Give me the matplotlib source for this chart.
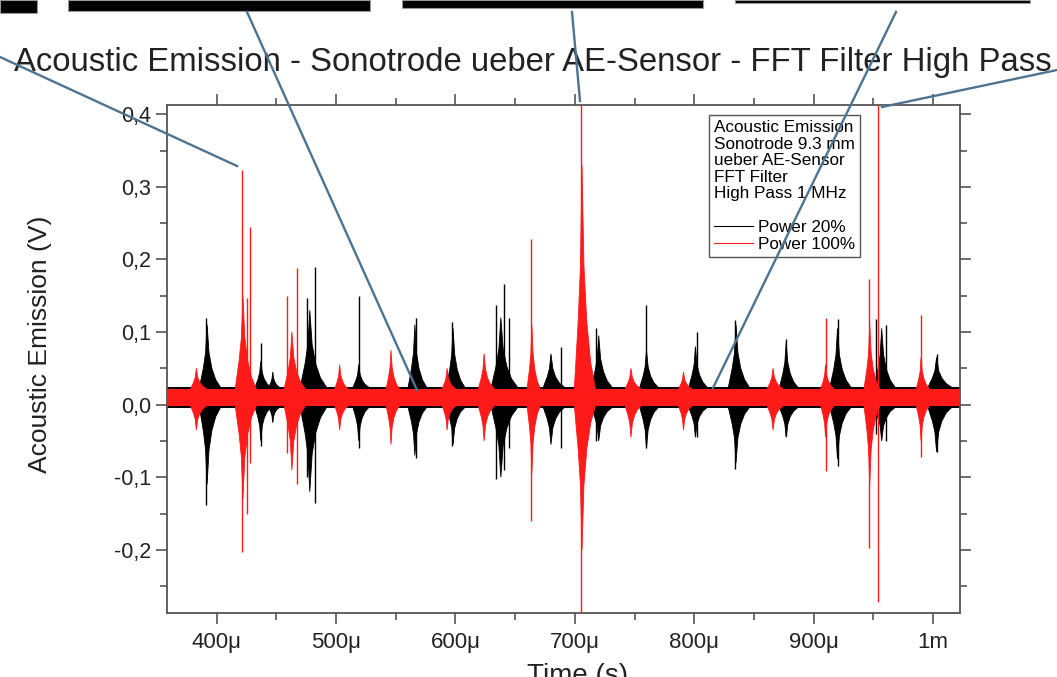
import matplotlib
matplotlib.use("Agg")
import matplotlib.pyplot as plt
from matplotlib.lines import Line2D
from matplotlib.patches import Rectangle
from matplotlib.ticker import FuncFormatter, MultipleLocator

plt.rcParams['font.family'] = ['Liberation Sans', 'DejaVu Sans']

# time axis in microseconds
XMIN, XMAX = 358.4, 1022.6
YMIN, YMAX = -0.287, 0.412

# noise band around the baseline (V)
black_band = (0.024, -0.004)
red_band = (0.022, -0.002)

# Power 20 % bursts: centre (us), upper (V), lower (V), duration (us)
black_t = [392, 437, 447, 478, 519, 566, 598, 638, 680, 720, 760, 801, 835, 877, 920, 957, 1003]
black_hi = [0.11, 0.06, 0.045, 0.13, 0.055, 0.11, 0.105, 0.12, 0.07, 0.095, 0.075, 0.08, 0.11, 0.085, 0.105, 0.105, 0.065]
black_lo = [-0.11, -0.05, -0.025, -0.12, -0.05, -0.07, -0.055, -0.10, -0.055, -0.05, -0.06, -0.045, -0.08, -0.045, -0.075, -0.05, -0.065]
black_w = [16, 12, 8, 20, 12, 14, 14, 20, 16, 16, 14, 14, 16, 14, 16, 16, 18]

# Power 20 % single spikes: time (us), top, bottom
black_spike_t = [391, 437, 476, 482, 519, 567, 597, 634, 641, 645, 688, 718, 760, 802, 834, 877, 920, 952, 961, 1003]
black_spike_top = [0.119, 0.085, 0.147, 0.19, 0.15, 0.119, 0.114, 0.137, 0.166, 0.12, 0.08, 0.105, 0.137, 0.10, 0.117, 0.09, 0.118, 0.118, 0.11, 0.07]
black_spike_bot = [-0.138, -0.057, -0.10, -0.136, -0.06, -0.073, -0.057, -0.102, -0.09, -0.06, -0.06, -0.05, -0.06, -0.045, -0.088, -0.043, -0.085, -0.04, -0.05, -0.065]

# Power 100 % bursts
red_t = [383, 422, 463, 503, 546, 593, 624, 664, 706, 747, 791, 866, 910, 947, 990]
red_hi = [0.05, 0.15, 0.10, 0.055, 0.075, 0.05, 0.07, 0.11, 0.33, 0.05, 0.045, 0.05, 0.055, 0.11, 0.065]
red_lo = [-0.035, -0.13, -0.09, -0.035, -0.055, -0.035, -0.05, -0.095, -0.20, -0.045, -0.035, -0.035, -0.045, -0.11, -0.05]
red_w = [12, 16, 16, 10, 10, 10, 12, 10, 16, 12, 10, 12, 10, 12, 10]

red_spike_t = [421, 425, 428, 459, 467, 663, 705, 910, 946, 954, 990]
red_spike_top = [0.323, 0.147, 0.245, 0.15, 0.188, 0.228, 0.43, 0.12, 0.173, 0.43, 0.123]
red_spike_bot = [-0.203, -0.15, -0.08, -0.067, -0.11, -0.16, -0.288, -0.092, -0.198, -0.272, -0.072]

legend_title = "Acoustic Emission\nSonotrode 9.3 mm\nueber AE-Sensor\nFFT Filter\nHigh Pass 1 MHz\n"
series_labels = ["Power 20%", "Power 100%"]


def draw_bursts(ax, t, hi, lo, w, band, color, z):
    # spindle shaped envelope: dense body near the baseline, narrow tip
    rel = [-0.4, -0.2, -0.08, 0.0, 0.1, 0.25, 0.45, 0.7]
    amp = [0.0, 0.3, 0.55, 1.0, 0.55, 0.3, 0.12, 0.0]
    for tc, h, l, wd in zip(t, hi, lo, w):
        xs = [tc + r * wd for r in rel]
        up = [band[0] + a * (h - band[0]) for a in amp]
        dn = [band[1] + a * (l - band[1]) for a in amp]
        ax.fill(xs + xs[::-1], up + dn[::-1], color=color, lw=0.6, zorder=z)


fig = plt.figure(figsize=(10.57, 6.77), dpi=100)
ax = fig.add_axes([167 / 1057, 1 - 613 / 677, 793 / 1057, 507.5 / 677])

# baseline noise
ax.fill_between([XMIN, XMAX], black_band[1], black_band[0], color='black', lw=0, zorder=2)
draw_bursts(ax, black_t, black_hi, black_lo, black_w, black_band, 'black', 2)
ax.vlines(black_spike_t, black_spike_bot, black_spike_top, color='black', lw=1.0, zorder=2)

ax.fill_between([XMIN, XMAX], red_band[1], red_band[0], color='#ff1a1a', lw=0, zorder=3)
draw_bursts(ax, red_t, red_hi, red_lo, red_w, red_band, '#ff1a1a', 3)
ax.vlines(red_spike_t, red_spike_bot, red_spike_top, color='#ff1a1a', lw=1.0, zorder=3)

ax.set_xlim(XMIN, XMAX)
ax.set_ylim(YMIN, YMAX)

ax.xaxis.set_major_locator(MultipleLocator(100))
ax.xaxis.set_minor_locator(MultipleLocator(50))
ax.yaxis.set_major_locator(MultipleLocator(0.1))
ax.yaxis.set_minor_locator(MultipleLocator(0.05))
ax.xaxis.set_major_formatter(FuncFormatter(lambda v, p: '1m' if abs(v - 1000) < 1 else f'{int(round(v))}\u03bc'))
ax.yaxis.set_major_formatter(FuncFormatter(lambda v, p: f'{v:.1f}'.replace('.', ',').replace('-0,0', '0,0')))

ax.tick_params(which='both', direction='out', top=True, right=True, color='#555555', width=1.2,
               labelsize=15.5, labelcolor='#222222')
ax.tick_params(which='major', length=8)
ax.tick_params(which='minor', length=5)
ax.tick_params(axis='x', pad=6, labelsize=16)
for s in ax.spines.values():
    s.set_color('#555555')
    s.set_linewidth(1.3)

ax.set_ylabel('Acoustic Emission (V)', fontsize=19, color='#222222')
ax.yaxis.set_label_coords(-0.145, 0.53)
ax.set_xlabel('Time (s)', fontsize=20, color='#222222', va='top')
ax.xaxis.set_label_coords(0.518, -0.098)

handles = [Line2D([], [], color='black', lw=0.8), Line2D([], [], color='#ff1a1a', lw=0.8)]
leg = ax.legend(handles, series_labels, title=legend_title, alignment='left',
                loc='upper left', bbox_to_anchor=(0.683, 0.981), fontsize=12.3, title_fontsize=12.3,
                handlelength=2.3, handletextpad=0.3, borderpad=0.3, labelspacing=0.12,
                borderaxespad=0, fancybox=False, framealpha=1, edgecolor='#555555')
leg.get_frame().set_linewidth(1.0)
leg.get_title().set_linespacing(1.12)
leg.set_zorder(5)

fig.text(14 / 1057, 1 - 62 / 677,
         'Acoustic Emission - Sonotrode ueber AE-Sensor - FFT Filter High Pass',
         ha='left', va='center', fontsize=23.7, color='#222222')

# black boxes at the top edge
for x0, x1, h in [(0, 37, 13), (68, 370, 11), (402, 703, 8), (735, 1030, 3)]:
    fig.add_artist(Rectangle((x0 / 1057, 1 - h / 677), (x1 - x0) / 1057, h / 677,
                             transform=fig.transFigure, facecolor='black', edgecolor='#999999', lw=0.8))

# callout lines
callouts = [((0, 57), (237, 166)), ((247, 12), (417, 390)), ((572, 12), (580, 101)),
            ((896, 12), (713, 388)), ((1057, 70), (882, 107))]
for (xa, ya), (xb, yb) in callouts:
    fig.add_artist(Line2D([xa / 1057, xb / 1057], [1 - ya / 677, 1 - yb / 677],
                          transform=fig.transFigure, color='#4d7391', lw=1.7, zorder=10))

fig.savefig('out.png', dpi=100, facecolor='white')
